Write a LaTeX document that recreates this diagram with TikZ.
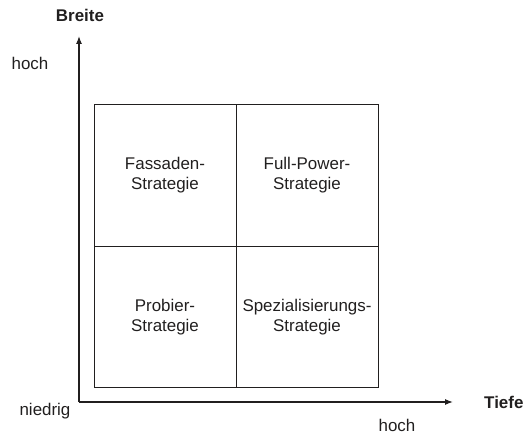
\documentclass[tikz,border=0pt]{standalone}
\usepackage{fontspec}
\setmainfont{Liberation Sans}
\usetikzlibrary{arrows.meta}
\definecolor{LineClr}{rgb}{0.13,0.12,0.12}

\begin{document}
\begin{tikzpicture}[x=1bp,y=-1bp,font=\fontsize{17pt}{20pt}\selectfont,
  cell/.style={draw=LineClr,line width=1pt,minimum width=142bp,minimum height=141.5bp,
    inner sep=0pt,align=center,text=LineClr},
  axis/.style={draw=LineClr,line width=1.2pt,-{Latex[length=8bp,width=6bp]}},
  lbl/.style={text=LineClr,inner sep=0pt}]
\useasboundingbox (0,0) rectangle (525,434);

\coordinate (O) at (79,402);
\coordinate (Y) at (79,36);
\coordinate (X) at (453,402);

% four strategy cells
\node[cell] (FS) at (165,175.5) {Fassaden-\\Strategie};
\node[cell] (FP) at (307,175.5) {Full-Power-\\Strategie};
\node[cell] (PS) at (165,317) {Probier-\\Strategie};
\node[cell] (SS) at (307,317) {Spezialisierungs-\\Strategie};

\draw[axis] (O) -- (Y);
\draw[axis] (O) -- (X);

\node[lbl,font=\fontsize{17pt}{20pt}\selectfont\bfseries] (breite) at (80,15) {Breite};
\node[lbl,anchor=west,font=\fontsize{17pt}{20pt}\selectfont\bfseries] (tiefe) at (484,402) {Tiefe};
\node[lbl] (yhoch) at (30,63) {hoch};
\node[lbl] (niedrig) at (45,411) {niedrig};
\node[lbl] (xhoch) at (397,425) {hoch};

\end{tikzpicture}
\end{document}
